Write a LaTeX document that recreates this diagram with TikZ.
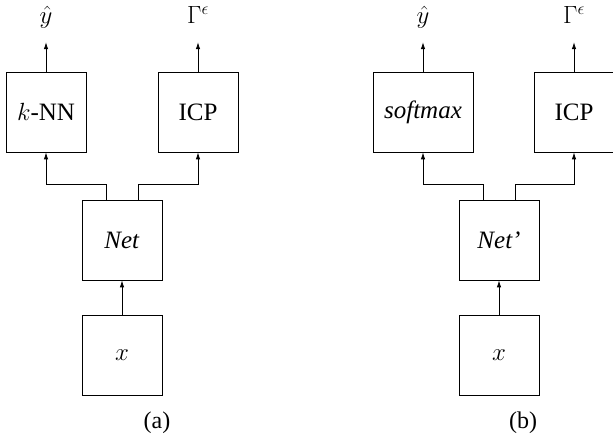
\documentclass[tikz,border=0pt]{standalone}
\usepackage{fontspec}
\setmainfont{Liberation Serif}
\usetikzlibrary{arrows.meta}
\begin{document}
\begin{tikzpicture}[x=1pt,y=-1pt,
  every node/.style={font=\fontsize{25}{30}\selectfont},
  blk/.style={draw, line width=0.8pt, minimum width=80pt, minimum height=80pt, inner sep=0pt},
  outlbl/.style={anchor=base, text depth=0pt, inner xsep=0pt, inner ysep=18pt},
  arr/.style={line width=0.8pt, -{Latex[length=7pt,width=4.5pt]}},
  captxt/.style={font=\fontsize{24}{28}\selectfont}]
\useasboundingbox (0,0) rectangle (613,443);
% panel (a)
\node[blk] (knn) at (46,112) {$k$-NN};
\node[blk] (icpa) at (198,112) {ICP};
\node[blk] (neta) at (122,240) {\textit{Net}};
\node[blk] (xa) at (122,355) {$x$};
\node[outlbl] (yha) at (46,24) {$\hat{y}$};
\node[outlbl] (ga) at (198,24) {$\Gamma^{\epsilon}$};
\node[captxt] (capa) at (157,423) {(a)};
\draw[arr] (knn.north) -- (yha.south);
\draw[arr] (icpa.north) -- (ga.south);
\draw[arr] (xa.north) -- (neta.south);
\draw[arr] (neta.north) ++(-16,0) -- ++(0,-15) -| (knn.south);
\draw[arr] (neta.north) ++(16,0) -- ++(0,-15) -| (icpa.south);
% panel (b)
\node[blk, minimum width=100pt] (smx) at (423,112) {\textit{softmax}};
\node[blk] (icpb) at (574,112) {ICP};
\node[blk] (netb) at (499,240) {\textit{Net'}};
\node[blk] (xb) at (499,355) {$x$};
\node[outlbl] (yhb) at (423,24) {$\hat{y}$};
\node[outlbl] (gb) at (574,24) {$\Gamma^{\epsilon}$};
\node[captxt] (capb) at (523,423) {(b)};
\draw[arr] (smx.north) -- (yhb.south);
\draw[arr] (icpb.north) -- (gb.south);
\draw[arr] (xb.north) -- (netb.south);
\draw[arr] (netb.north) ++(-16,0) -- ++(0,-15) -| (smx.south);
\draw[arr] (netb.north) ++(16,0) -- ++(0,-15) -| (icpb.south);
\end{tikzpicture}
\end{document}
